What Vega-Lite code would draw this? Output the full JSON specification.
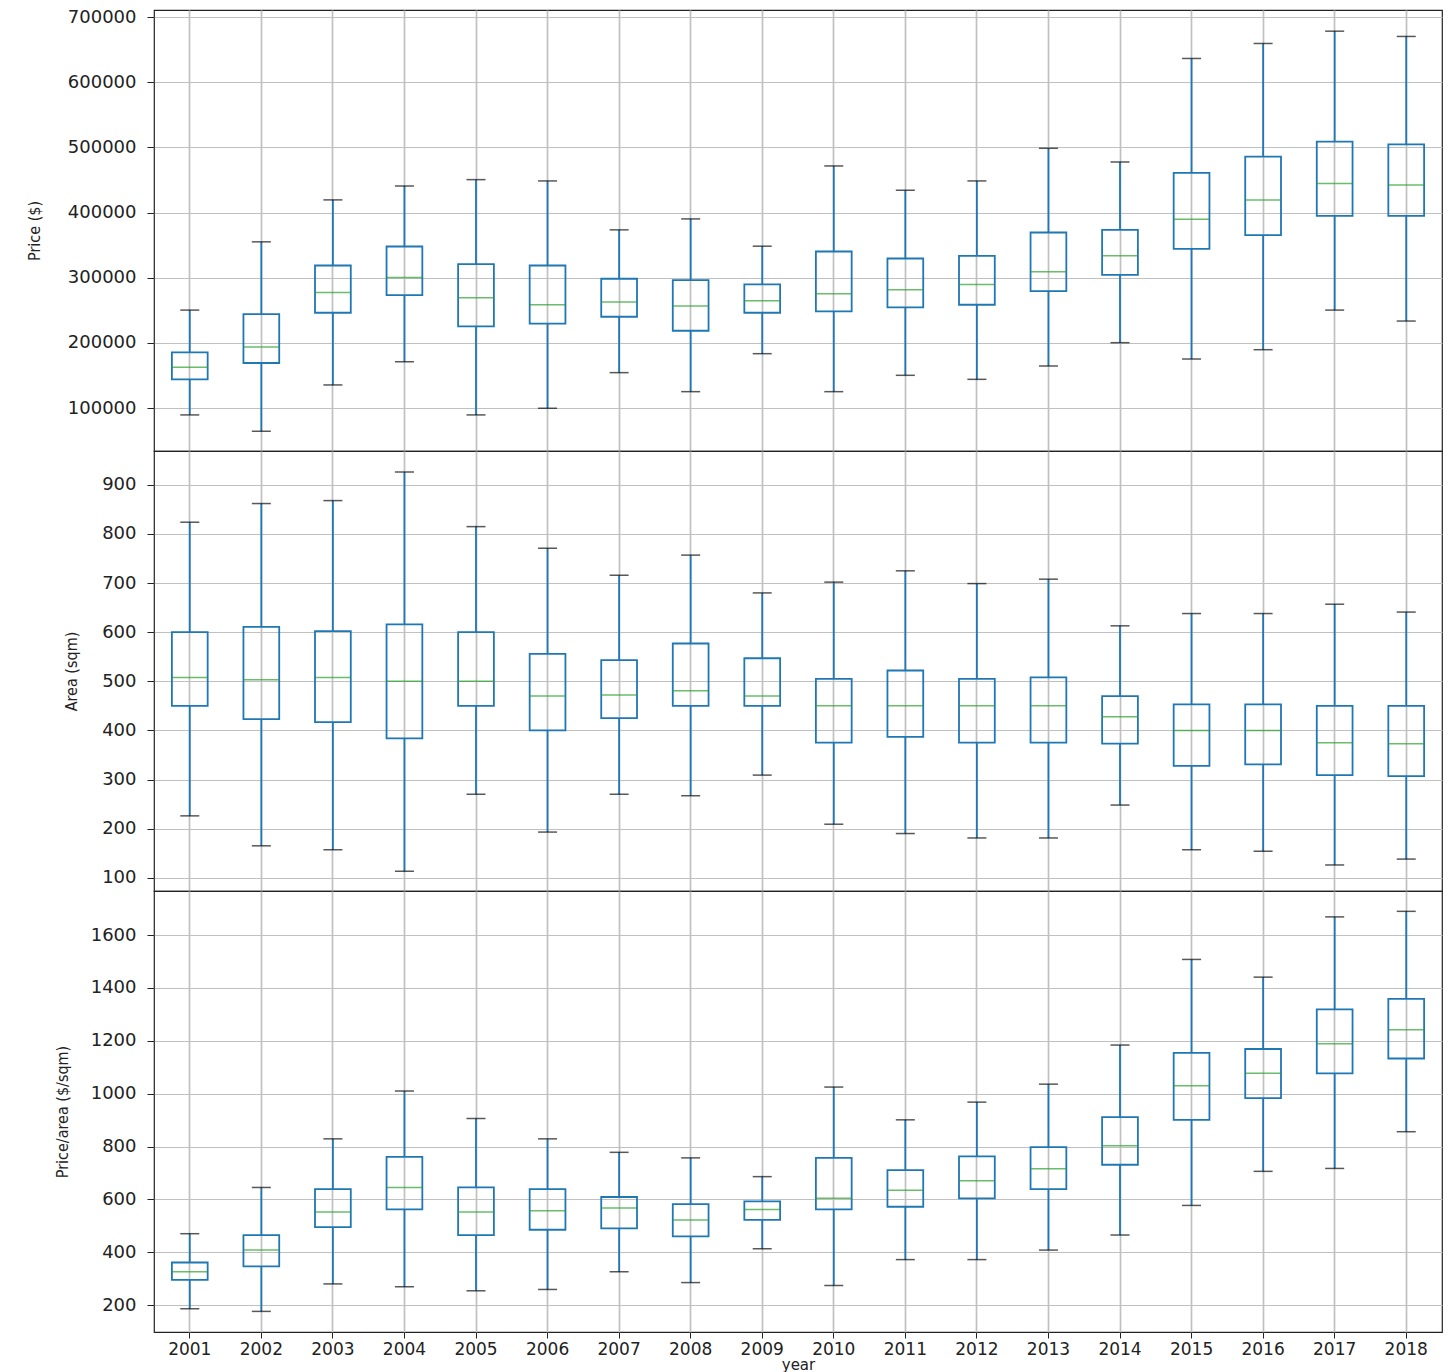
{
  "$schema": "https://vega.github.io/schema/vega-lite/v6.json",
  "padding": {"left": 25, "top": 7, "right": 12, "bottom": 0},
  "spacing": 0,
  "bounds": "flush",
  "background": "white",
  "datasets": {
    "stats": [
      {"m": "price", "year": "2001", "low": 89400, "q1": 144000, "med": 162400, "q3": 185400, "high": 250300},
      {"m": "price", "year": "2002", "low": 64300, "q1": 169100, "med": 193600, "q3": 244200, "high": 355100},
      {"m": "price", "year": "2003", "low": 135400, "q1": 246200, "med": 277400, "q3": 318800, "high": 419500},
      {"m": "price", "year": "2004", "low": 171100, "q1": 273300, "med": 300400, "q3": 347900, "high": 440900},
      {"m": "price", "year": "2005", "low": 89400, "q1": 225300, "med": 269200, "q3": 320800, "high": 450600},
      {"m": "price", "year": "2006", "low": 99600, "q1": 229400, "med": 258500, "q3": 318800, "high": 448600},
      {"m": "price", "year": "2007", "low": 154300, "q1": 240100, "med": 262600, "q3": 298400, "high": 373500},
      {"m": "price", "year": "2008", "low": 125100, "q1": 218600, "med": 256500, "q3": 296300, "high": 390300},
      {"m": "price", "year": "2009", "low": 183400, "q1": 246200, "med": 264600, "q3": 289700, "high": 348400},
      {"m": "price", "year": "2010", "low": 125100, "q1": 248300, "med": 275400, "q3": 340300, "high": 471600},
      {"m": "price", "year": "2011", "low": 150200, "q1": 254400, "med": 281500, "q3": 329500, "high": 434300},
      {"m": "price", "year": "2012", "low": 144000, "q1": 258500, "med": 289700, "q3": 333600, "high": 448600},
      {"m": "price", "year": "2013", "low": 164500, "q1": 279500, "med": 309100, "q3": 369400, "high": 498700},
      {"m": "price", "year": "2014", "low": 200300, "q1": 304500, "med": 333600, "q3": 373500, "high": 477700},
      {"m": "price", "year": "2015", "low": 175200, "q1": 344400, "med": 389800, "q3": 460900, "high": 636600},
      {"m": "price", "year": "2016", "low": 189500, "q1": 365300, "med": 419500, "q3": 485900, "high": 659600},
      {"m": "price", "year": "2017", "low": 250300, "q1": 394900, "med": 444500, "q3": 508900, "high": 678500},
      {"m": "price", "year": "2018", "low": 233500, "q1": 394900, "med": 442500, "q3": 504800, "high": 670400},
      {"m": "area", "year": "2001", "low": 226, "q1": 450, "med": 508, "q3": 600, "high": 824},
      {"m": "area", "year": "2002", "low": 165, "q1": 423, "med": 503, "q3": 611, "high": 862},
      {"m": "area", "year": "2003", "low": 157, "q1": 417, "med": 508, "q3": 602, "high": 868},
      {"m": "area", "year": "2004", "low": 113, "q1": 384, "med": 500, "q3": 616, "high": 926},
      {"m": "area", "year": "2005", "low": 270, "q1": 450, "med": 500, "q3": 600, "high": 815},
      {"m": "area", "year": "2006", "low": 193, "q1": 400, "med": 470, "q3": 556, "high": 771},
      {"m": "area", "year": "2007", "low": 270, "q1": 425, "med": 472, "q3": 543, "high": 716},
      {"m": "area", "year": "2008", "low": 267, "q1": 450, "med": 481, "q3": 577, "high": 757},
      {"m": "area", "year": "2009", "low": 309, "q1": 450, "med": 470, "q3": 547, "high": 680},
      {"m": "area", "year": "2010", "low": 209, "q1": 375, "med": 450, "q3": 505, "high": 702},
      {"m": "area", "year": "2011", "low": 190, "q1": 387, "med": 450, "q3": 522, "high": 725},
      {"m": "area", "year": "2012", "low": 181, "q1": 375, "med": 450, "q3": 505, "high": 699},
      {"m": "area", "year": "2013", "low": 181, "q1": 375, "med": 450, "q3": 508, "high": 708},
      {"m": "area", "year": "2014", "low": 248, "q1": 373, "med": 428, "q3": 470, "high": 613},
      {"m": "area", "year": "2015", "low": 157, "q1": 328, "med": 400, "q3": 453, "high": 638},
      {"m": "area", "year": "2016", "low": 154, "q1": 331, "med": 400, "q3": 453, "high": 638},
      {"m": "area", "year": "2017", "low": 126, "q1": 309, "med": 375, "q3": 450, "high": 657},
      {"m": "area", "year": "2018", "low": 138, "q1": 307, "med": 373, "q3": 450, "high": 641},
      {"m": "ppa", "year": "2001", "low": 186, "q1": 295, "med": 326, "q3": 361, "high": 470},
      {"m": "ppa", "year": "2002", "low": 176, "q1": 346, "med": 408, "q3": 465, "high": 645},
      {"m": "ppa", "year": "2003", "low": 280, "q1": 495, "med": 552, "q3": 639, "high": 829},
      {"m": "ppa", "year": "2004", "low": 269, "q1": 562, "med": 645, "q3": 761, "high": 1010},
      {"m": "ppa", "year": "2005", "low": 254, "q1": 465, "med": 552, "q3": 645, "high": 906},
      {"m": "ppa", "year": "2006", "low": 259, "q1": 485, "med": 557, "q3": 639, "high": 829},
      {"m": "ppa", "year": "2007", "low": 326, "q1": 490, "med": 567, "q3": 609, "high": 778},
      {"m": "ppa", "year": "2008", "low": 285, "q1": 460, "med": 522, "q3": 582, "high": 757},
      {"m": "ppa", "year": "2009", "low": 413, "q1": 522, "med": 562, "q3": 592, "high": 686},
      {"m": "ppa", "year": "2010", "low": 274, "q1": 562, "med": 604, "q3": 757, "high": 1025},
      {"m": "ppa", "year": "2011", "low": 372, "q1": 572, "med": 634, "q3": 711, "high": 901},
      {"m": "ppa", "year": "2012", "low": 372, "q1": 604, "med": 670, "q3": 763, "high": 968},
      {"m": "ppa", "year": "2013", "low": 408, "q1": 639, "med": 716, "q3": 798, "high": 1036},
      {"m": "ppa", "year": "2014", "low": 465, "q1": 731, "med": 803, "q3": 911, "high": 1184},
      {"m": "ppa", "year": "2015", "low": 577, "q1": 901, "med": 1030, "q3": 1154, "high": 1508},
      {"m": "ppa", "year": "2016", "low": 706, "q1": 983, "med": 1077, "q3": 1169, "high": 1441},
      {"m": "ppa", "year": "2017", "low": 717, "q1": 1077, "med": 1189, "q3": 1319, "high": 1669},
      {"m": "ppa", "year": "2018", "low": 856, "q1": 1133, "med": 1242, "q3": 1359, "high": 1690}
    ]
  },
  "data": {"name": "stats"},
  "vconcat": [
    {
      "width": 1288,
      "height": 441,
      "transform": [{"filter": "datum.m === 'price'"}],
      "encoding": {
        "x": {"field": "year", "type": "ordinal", "scale": {"paddingInner": 0, "paddingOuter": 0},
              "axis": {"labels": false, "title": null, "ticks": true, "tickSize": 6}}
      },
      "layer": [
        {"mark": {"type": "rule", "color": "#1f77b4", "strokeWidth": 1.8},
         "encoding": {"y": {"field": "low", "type": "quantitative", "title": "Price ($)",
                            "scale": {"domain": [34000, 711000], "nice": false, "zero": false},
                            "axis": {"values": [100000, 200000, 300000, 400000, 500000, 600000, 700000], "format": "d", "labelPadding": 11, "titlePadding": 25}},
                      "y2": {"field": "q1"}}},
        {"mark": {"type": "rule", "color": "#1f77b4", "strokeWidth": 1.8},
         "encoding": {"y": {"field": "q3", "type": "quantitative", "title": "Price ($)"}, "y2": {"field": "high"}}},
        {"mark": {"type": "bar", "fill": "transparent", "stroke": "#1f77b4", "strokeWidth": 1.8, "width": {"band": 0.5}},
         "encoding": {"y": {"field": "q1", "type": "quantitative", "title": "Price ($)"}, "y2": {"field": "q3"}}},
        {"mark": {"type": "tick", "color": "#2ca02c", "size": 36, "thickness": 1.5},
         "encoding": {"y": {"field": "med", "type": "quantitative", "title": "Price ($)"}}},
        {"mark": {"type": "tick", "color": "#111111", "size": 19, "thickness": 1.5},
         "encoding": {"y": {"field": "low", "type": "quantitative", "title": "Price ($)"}}},
        {"mark": {"type": "tick", "color": "#111111", "size": 19, "thickness": 1.5},
         "encoding": {"y": {"field": "high", "type": "quantitative", "title": "Price ($)"}}}
      ]
    },
    {
      "width": 1288,
      "height": 440,
      "transform": [{"filter": "datum.m === 'area'"}],
      "encoding": {
        "x": {"field": "year", "type": "ordinal", "scale": {"paddingInner": 0, "paddingOuter": 0},
              "axis": {"labels": false, "title": null, "ticks": true, "tickSize": 6}}
      },
      "layer": [
        {"mark": {"type": "rule", "color": "#1f77b4", "strokeWidth": 1.8},
         "encoding": {"y": {"field": "low", "type": "quantitative", "title": "Area (sqm)",
                            "scale": {"domain": [73, 969], "nice": false, "zero": false},
                            "axis": {"values": [100, 200, 300, 400, 500, 600, 700, 800, 900], "format": "d", "labelPadding": 11, "titlePadding": 22}},
                      "y2": {"field": "q1"}}},
        {"mark": {"type": "rule", "color": "#1f77b4", "strokeWidth": 1.8},
         "encoding": {"y": {"field": "q3", "type": "quantitative", "title": "Area (sqm)"}, "y2": {"field": "high"}}},
        {"mark": {"type": "bar", "fill": "transparent", "stroke": "#1f77b4", "strokeWidth": 1.8, "width": {"band": 0.5}},
         "encoding": {"y": {"field": "q1", "type": "quantitative", "title": "Area (sqm)"}, "y2": {"field": "q3"}}},
        {"mark": {"type": "tick", "color": "#2ca02c", "size": 36, "thickness": 1.5},
         "encoding": {"y": {"field": "med", "type": "quantitative", "title": "Area (sqm)"}}},
        {"mark": {"type": "tick", "color": "#111111", "size": 19, "thickness": 1.5},
         "encoding": {"y": {"field": "low", "type": "quantitative", "title": "Area (sqm)"}}},
        {"mark": {"type": "tick", "color": "#111111", "size": 19, "thickness": 1.5},
         "encoding": {"y": {"field": "high", "type": "quantitative", "title": "Area (sqm)"}}}
      ]
    },
    {
      "width": 1288,
      "height": 441,
      "transform": [{"filter": "datum.m === 'ppa'"}],
      "encoding": {
        "x": {"field": "year", "type": "ordinal", "scale": {"paddingInner": 0, "paddingOuter": 0},
              "axis": {"title": "year", "tickSize": 6, "labelPadding": 3, "labelFontSize": 17, "titleFont": "DejaVu Sans", "titleFontSize": 15, "titlePadding": 0}}
      },
      "layer": [
        {"mark": {"type": "rule", "color": "#1f77b4", "strokeWidth": 1.8},
         "encoding": {"y": {"field": "low", "type": "quantitative", "title": "Price/area ($/sqm)",
                            "scale": {"domain": [98, 1767], "nice": false, "zero": false},
                            "axis": {"values": [200, 400, 600, 800, 1000, 1200, 1400, 1600], "format": "d", "labelPadding": 11, "titlePadding": 20}},
                      "y2": {"field": "q1"}}},
        {"mark": {"type": "rule", "color": "#1f77b4", "strokeWidth": 1.8},
         "encoding": {"y": {"field": "q3", "type": "quantitative", "title": "Price/area ($/sqm)"}, "y2": {"field": "high"}}},
        {"mark": {"type": "bar", "fill": "transparent", "stroke": "#1f77b4", "strokeWidth": 1.8, "width": {"band": 0.5}},
         "encoding": {"y": {"field": "q1", "type": "quantitative", "title": "Price/area ($/sqm)"}, "y2": {"field": "q3"}}},
        {"mark": {"type": "tick", "color": "#2ca02c", "size": 36, "thickness": 1.5},
         "encoding": {"y": {"field": "med", "type": "quantitative", "title": "Price/area ($/sqm)"}}},
        {"mark": {"type": "tick", "color": "#111111", "size": 19, "thickness": 1.5},
         "encoding": {"y": {"field": "low", "type": "quantitative", "title": "Price/area ($/sqm)"}}},
        {"mark": {"type": "tick", "color": "#111111", "size": 19, "thickness": 1.5},
         "encoding": {"y": {"field": "high", "type": "quantitative", "title": "Price/area ($/sqm)"}}}
      ]
    }
  ],
  "config": {
    "view": {"stroke": "#222222", "strokeWidth": 1.2},
    "axis": {
      "labelFont": "DejaVu Sans", "labelFontSize": 18, "labelColor": "#222222",
      "tickColor": "#222222", "tickSize": 7, "domain": false,
      "gridColor": "#c0c0c0", "grid": true,
      "titleFont": "DejaVu Sans Condensed", "titleFontSize": 16, "titleFontWeight": "normal", "titleColor": "#222222"
    },
    "axisX": {"gridWidth": 1.7, "labelAngle": 0},
    "axisY": {"gridWidth": 1.1}
  }
}
